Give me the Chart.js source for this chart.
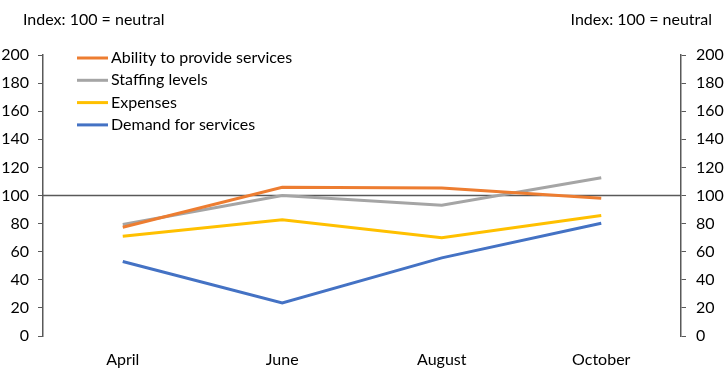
<!DOCTYPE html>
<html>
<head>
<meta charset="utf-8">
<script src="https://cdn.jsdelivr.net/npm/chart.js@4"></script>
<style>
html,body{margin:0;padding:0;background:#fff;}
#wrap{width:725px;height:390px;position:relative;}
</style>
</head>
<body>
<div id="wrap"><canvas id="c" width="725" height="390"></canvas></div>
<script>
const categories = ['April', 'June', 'August', 'October'];
const ability = [77.4, 105.8, 105.4, 98];
const staffing = [79.4, 100, 93, 112.6];
const expenses = [71, 82.7, 70, 85.8];
const demand = [53, 23.6, 55.6, 80.3];
const seriesNames = ['Ability to provide services', 'Staffing levels', 'Expenses', 'Demand for services'];
const yTicks = [0, 20, 40, 60, 80, 100, 120, 140, 160, 180, 200];
const axisTitle = 'Index: 100 = neutral';
const neutralValue = 100;

const FONT = 'Lato, "Open Sans", sans-serif';
const colors = ['#ED7D31', '#A5A5A5', '#FFC000', '#4472C4'];
const axisColor = '#595959';

const extras = {
  id: 'extras',
  beforeDatasetsDraw(chart) {
    const {ctx, chartArea} = chart;
    const y = chart.scales.y.getPixelForValue(neutralValue);
    ctx.save();
    ctx.strokeStyle = axisColor;
    ctx.lineWidth = 1.5;
    ctx.beginPath();
    ctx.moveTo(chartArea.left, y);
    ctx.lineTo(chartArea.right, y);
    ctx.stroke();
    ctx.restore();
  },
  afterDraw(chart) {
    const {ctx} = chart;
    ctx.save();
    ctx.font = '16px ' + FONT;
    ctx.fillStyle = '#000';
    ctx.textBaseline = 'middle';
    ctx.textAlign = 'left';
    ctx.fillText(axisTitle, 23, 20);
    ctx.textAlign = 'right';
    ctx.fillText(axisTitle, 712, 20);
    ctx.textAlign = 'left';
    chart.data.datasets.forEach((ds, i) => {
      const yy = 58 + i * 22.3;
      ctx.strokeStyle = ds.borderColor;
      ctx.lineWidth = 3;
      ctx.beginPath();
      ctx.moveTo(77, yy);
      ctx.lineTo(108, yy);
      ctx.stroke();
      ctx.fillStyle = '#000';
      ctx.fillText(ds.label, 111, yy);
    });
    ctx.restore();
  }
};

const series = [ability, staffing, expenses, demand];
new Chart(document.getElementById('c'), {
  type: 'line',
  data: {
    labels: categories,
    datasets: series.map((d, i) => ({
      label: seriesNames[i],
      data: d,
      borderColor: colors[i],
      backgroundColor: colors[i],
      borderWidth: 3,
      pointRadius: 0,
      tension: 0,
      yAxisID: 'y'
    }))
  },
  options: {
    responsive: false,
    animation: false,
    devicePixelRatio: 1,
    layout: {padding: {top: 55, bottom: 0, left: 0, right: 0}},
    plugins: {legend: {display: false}, tooltip: {enabled: false}, title: {display: false}},
    scales: {
      x: {
        offset: true,
        grid: {display: false},
        border: {display: false},
        ticks: {color: '#000', font: {family: FONT, size: 16}, padding: 6, maxRotation: 0},
        afterFit(s) { s.height = 54; }
      },
      y: {
        position: 'left',
        min: 0, max: 200,
        afterBuildTicks(s) { s.ticks = yTicks.map(v => ({value: v})); },
        grid: {drawOnChartArea: false, drawTicks: true, tickLength: 5, color: axisColor, lineWidth: 1},
        border: {display: true, color: axisColor, width: 1.5},
        ticks: {color: '#000', font: {family: FONT, size: 16}, padding: 9},
        afterFit(s) { s.width = 43; }
      },
      y2: {
        position: 'right',
        min: 0, max: 200,
        afterBuildTicks(s) { s.ticks = yTicks.map(v => ({value: v})); },
        grid: {drawOnChartArea: false, drawTicks: true, tickLength: 5, color: axisColor, lineWidth: 1},
        border: {display: true, color: axisColor, width: 1.5},
        ticks: {color: '#000', font: {family: FONT, size: 16}, padding: 10},
        afterFit(s) { s.width = 44; }
      }
    }
  },
  plugins: [extras]
});
</script>
</body>
</html>
